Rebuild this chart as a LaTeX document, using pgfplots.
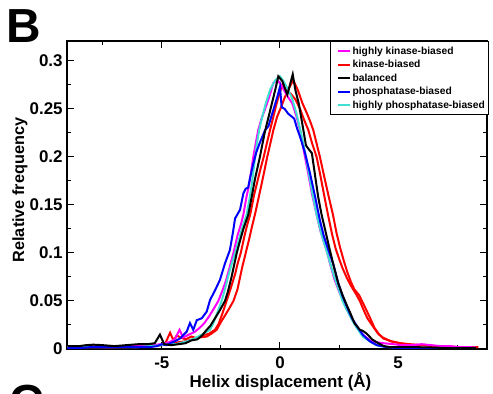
\documentclass[border=0pt]{standalone}
\usepackage{pgfplots}
\pgfplotsset{compat=1.18}
\usepackage{fontspec}
\setmainfont{Liberation Sans}
\definecolor{mag}{RGB}{255,0,255}
\definecolor{rd}{RGB}{255,0,0}
\definecolor{bl}{RGB}{0,0,255}
\definecolor{cy}{RGB}{64,224,208}
\begin{document}
\begin{tikzpicture}
\useasboundingbox (0,0) rectangle (493bp,394bp);
\node[anchor=base west, inner sep=0pt, font=\bfseries\fontsize{48}{48}\selectfont] at (6.5bp,351bp) {B};
\node[anchor=base west, inner sep=0pt, font=\bfseries\fontsize{48}{48}\selectfont] at (9bp,-24.5bp) {C};
\begin{axis}[
  at={(67.3bp,45bp)}, anchor=south west,
  scale only axis, width=419.7bp, height=308bp,
  xmin=-9, xmax=8.76, ymin=0, ymax=0.3208,
  xtick={-5,0,5}, minor xtick={-7.5,-2.5,2.5,7.5},
  ytick={0,0.05,0.1,0.15,0.2,0.25,0.3},
  minor ytick={0.025,0.075,0.125,0.175,0.225,0.275},
  tick align=inside, major tick length=7bp, minor tick length=4bp,
  every tick/.style={black, line width=1bp},
  axis line style={line width=1.8bp},
  tick label style={font=\bfseries\fontsize{17}{17}\selectfont},
  /pgf/number format/assume math mode=true,
  yticklabel style={/pgf/number format/fixed, /pgf/number format/precision=2, anchor=east, inner sep=0pt, xshift=-4.5bp},
  xticklabel style={anchor=base, inner sep=0pt, yshift=-19.3bp},
  xlabel={Helix displacement (Å)}, ylabel={Relative frequency},
  xlabel style={font=\bfseries\fontsize{17}{17}\selectfont, at={(axis description cs:0.508,-0.1234)}, anchor=base},
  ylabel style={font=\bfseries\fontsize{16.3}{17}\selectfont, at={(axis description cs:-0.1127,0.516)}, anchor=center},
  legend style={at={(1,1)}, anchor=north east, xshift=2.5bp, draw=black, line width=1.2bp,
    font=\bfseries\fontsize{10.3}{12.6}\selectfont, fill=white,
    inner xsep=2bp, inner ysep=3bp, row sep=0.6bp, cells={anchor=west}},
  legend image code/.code={\path (0bp,0bp); \draw[#1] (4bp,0bp) -- (16bp,0bp);},
]
\addlegendimage{mag, line width=2bp}\addlegendentry{highly kinase-biased}
\addlegendimage{rd, line width=2bp}\addlegendentry{kinase-biased}
\addlegendimage{black, line width=2bp}\addlegendentry{balanced}
\addlegendimage{bl, line width=2bp}\addlegendentry{phosphatase-biased}
\addlegendimage{cy, line width=2bp}\addlegendentry{highly phosphatase-biased}

% red 2
\addplot[rd, line width=2bp, forget plot] coordinates {(-9,0.002)(-8.5,0.002)(-8,0.002)(-7.5,0.002)(-7,0.002)(-6.5,0.002)(-6,0.002)(-5.5,0.003)(-5.1,0.004)(-4.85,0.006)(-4.65,0.017)(-4.51,0.009)(-4.37,0.014)(-4.2,0.012)(-4.0,0.01)(-3.75,0.013)(-3.5,0.011)(-3.3,0.014)(-3.0,0.016)(-2.75,0.02)(-2.6,0.026)(-2.45,0.036)(-2.26,0.05)(-2.1,0.062)(-1.9,0.078)(-1.78,0.09)(-1.66,0.1)(-1.5,0.118)(-1.38,0.13)(-1.26,0.14)(-1.1,0.16)(-0.95,0.175)(-0.82,0.188)(-0.69,0.2)(-0.55,0.215)(-0.42,0.228)(-0.3,0.24)(-0.15,0.255)(0,0.268)(0.1,0.275)(0.25,0.27)(0.45,0.266)(0.65,0.26)(0.85,0.25)(1.0,0.24)(1.2,0.228)(1.35,0.215)(1.55,0.2)(1.7,0.182)(1.87,0.16)(2.03,0.14)(2.2,0.12)(2.35,0.105)(2.5,0.094)(2.65,0.084)(2.85,0.073)(3.0,0.066)(3.2,0.058)(3.38,0.05)(3.55,0.04)(3.7,0.032)(3.95,0.023)(4.15,0.016)(4.35,0.012)(4.7,0.008)(5.1,0.006)(5.6,0.004)(6.2,0.004)(6.6,0.003)(7,0.002)(7.5,0.002)(8,0.002)(8.3,0.002)};
% red 1
\addplot[rd, line width=2bp, forget plot] coordinates {(-9,0.002)(-8.5,0.002)(-8,0.002)(-7.5,0.002)(-7,0.002)(-6.5,0.002)(-6,0.003)(-5.5,0.003)(-5,0.004)(-4.6,0.006)(-4.3,0.007)(-4,0.008)(-3.7,0.01)(-3.4,0.012)(-3.1,0.013)(-2.9,0.016)(-2.68,0.02)(-2.5,0.028)(-2.3,0.036)(-2.13,0.043)(-1.97,0.05)(-1.8,0.062)(-1.6,0.085)(-1.45,0.1)(-1.3,0.115)(-1.18,0.128)(-1.06,0.14)(-0.9,0.158)(-0.75,0.175)(-0.64,0.188)(-0.54,0.2)(-0.4,0.215)(-0.28,0.228)(-0.12,0.242)(0.05,0.252)(0.2,0.262)(0.35,0.27)(0.56,0.28)(0.75,0.27)(0.95,0.256)(1.13,0.246)(1.28,0.237)(1.41,0.228)(1.55,0.214)(1.69,0.2)(1.85,0.182)(2.05,0.16)(2.24,0.14)(2.4,0.12)(2.55,0.105)(2.7,0.092)(2.85,0.08)(3.0,0.07)(3.15,0.062)(3.35,0.056)(3.55,0.046)(3.8,0.033)(4.0,0.022)(4.2,0.015)(4.37,0.011)(4.7,0.008)(5.08,0.006)(5.5,0.005)(6.05,0.004)(6.5,0.003)(7,0.003)(7.5,0.002)(8,0.002)(8.4,0.002)};
% magenta
\addplot[mag, line width=2bp, forget plot] coordinates {(-9,0.002)(-8.5,0.002)(-8,0.003)(-7.5,0.002)(-7,0.002)(-6.5,0.003)(-6,0.003)(-5.5,0.004)(-5,0.005)(-4.7,0.007)(-4.45,0.01)(-4.25,0.02)(-4.1,0.012)(-3.85,0.015)(-3.6,0.018)(-3.4,0.022)(-3.2,0.027)(-3.0,0.034)(-2.8,0.042)(-2.61,0.05)(-2.45,0.06)(-2.3,0.07)(-2.13,0.085)(-1.97,0.1)(-1.8,0.118)(-1.65,0.13)(-1.55,0.14)(-1.42,0.158)(-1.3,0.172)(-1.13,0.2)(-1.02,0.215)(-0.92,0.228)(-0.78,0.24)(-0.63,0.25)(-0.45,0.263)(-0.28,0.277)(-0.1,0.28)(0.05,0.275)(0.21,0.268)(0.35,0.262)(0.52,0.256)(0.7,0.242)(0.85,0.228)(0.95,0.214)(1.06,0.2)(1.2,0.182)(1.35,0.162)(1.55,0.14)(1.7,0.124)(1.85,0.112)(1.97,0.103)(2.15,0.086)(2.3,0.073)(2.5,0.06)(2.68,0.05)(2.85,0.04)(3.05,0.031)(3.24,0.023)(3.5,0.015)(3.81,0.009)(4.1,0.007)(4.4,0.006)(4.8,0.005)(5.2,0.004)(5.6,0.004)(6,0.005)(6.4,0.004)(6.8,0.003)(7.2,0.003)(7.6,0.002)(8,0.002)(8.3,0.0015)};
% cyan
\addplot[cy, line width=2bp, forget plot] coordinates {(-9,0.002)(-8.5,0.002)(-8,0.002)(-7.5,0.002)(-7,0.002)(-6.5,0.002)(-6,0.002)(-5.5,0.003)(-5,0.004)(-4.7,0.005)(-4.4,0.005)(-4.1,0.007)(-3.8,0.009)(-3.55,0.012)(-3.3,0.015)(-3.1,0.018)(-2.96,0.02)(-2.8,0.028)(-2.65,0.038)(-2.47,0.05)(-2.33,0.062)(-2.2,0.075)(-2.05,0.088)(-1.9,0.1)(-1.75,0.113)(-1.6,0.126)(-1.41,0.14)(-1.3,0.155)(-1.2,0.17)(-1.1,0.19)(-0.99,0.212)(-0.88,0.228)(-0.75,0.242)(-0.6,0.256)(-0.42,0.27)(-0.2,0.28)(0.0,0.284)(0.15,0.279)(0.3,0.272)(0.5,0.262)(0.7,0.245)(0.9,0.224)(1.06,0.205)(1.2,0.186)(1.35,0.165)(1.55,0.14)(1.75,0.12)(2.0,0.1)(2.15,0.087)(2.3,0.075)(2.5,0.061)(2.65,0.05)(2.8,0.042)(2.95,0.035)(3.1,0.028)(3.25,0.022)(3.5,0.013)(3.8,0.008)(4.0,0.005)(4.2,0.003)(4.6,0.002)(5,0.0015)(5.5,0.001)(6,0.001)(7,0.001)(8,0.001)};
% blue
\addplot[bl, line width=2bp, forget plot] coordinates {(-9,0.001)(-8.5,0.001)(-8,0.002)(-7.5,0.002)(-7,0.002)(-6.5,0.002)(-6,0.002)(-5.5,0.002)(-5.2,0.003)(-5.0,0.005)(-4.8,0.004)(-4.65,0.006)(-4.45,0.008)(-4.23,0.011)(-3.95,0.018)(-3.81,0.027)(-3.67,0.02)(-3.52,0.03)(-3.31,0.032)(-3.1,0.039)(-2.96,0.051)(-2.75,0.061)(-2.54,0.072)(-2.33,0.089)(-2.12,0.103)(-2.0,0.12)(-1.9,0.136)(-1.69,0.145)(-1.55,0.162)(-1.45,0.167)(-1.35,0.168)(-1.25,0.18)(-1.13,0.193)(-1.0,0.205)(-0.85,0.215)(-0.63,0.228)(-0.49,0.232)(-0.28,0.249)(-0.12,0.262)(0.0,0.273)(0.07,0.252)(0.2,0.25)(0.35,0.245)(0.5,0.242)(0.6,0.24)(0.72,0.23)(0.85,0.221)(1.05,0.205)(1.27,0.183)(1.5,0.157)(1.69,0.134)(1.85,0.118)(2.05,0.103)(2.26,0.088)(2.45,0.07)(2.65,0.055)(2.85,0.043)(3.05,0.032)(3.25,0.024)(3.5,0.015)(3.8,0.008)(4.1,0.004)(4.5,0.002)(5,0.001)(5.5,0.001)(6,0.001)(7,0.001)(8,0.001)};
% black
\addplot[black, line width=2bp, forget plot] coordinates {(-9,0.003)(-8.5,0.003)(-8.2,0.004)(-7.9,0.0045)(-7.5,0.004)(-7,0.003)(-6.5,0.004)(-6,0.005)(-5.6,0.005)(-5.3,0.006)(-5.08,0.015)(-4.9,0.005)(-4.6,0.004)(-4.3,0.005)(-4.0,0.006)(-3.75,0.009)(-3.5,0.01)(-3.3,0.014)(-3.1,0.02)(-2.95,0.024)(-2.8,0.03)(-2.55,0.04)(-2.33,0.05)(-2.2,0.06)(-2.05,0.075)(-1.83,0.1)(-1.7,0.112)(-1.55,0.125)(-1.34,0.14)(-1.2,0.158)(-1.05,0.178)(-0.85,0.2)(-0.65,0.225)(-0.5,0.24)(-0.35,0.255)(-0.2,0.27)(-0.07,0.284)(0.1,0.279)(0.2,0.272)(0.31,0.265)(0.42,0.275)(0.54,0.286)(0.65,0.27)(0.8,0.255)(0.99,0.228)(1.1,0.212)(1.22,0.208)(1.35,0.204)(1.5,0.178)(1.62,0.158)(1.76,0.14)(1.95,0.12)(2.11,0.103)(2.3,0.084)(2.47,0.068)(2.65,0.056)(2.82,0.046)(3.0,0.036)(3.15,0.027)(3.38,0.02)(3.5,0.019)(3.67,0.016)(3.9,0.01)(4.16,0.006)(4.4,0.003)(4.65,0.002)(5,0.002)(5.5,0.002)(6,0.0018)(6.5,0.0015)(7,0.001)(7.5,0.001)(8,0.001)(8.3,0.001)};
\end{axis}
\end{tikzpicture}
\end{document}
